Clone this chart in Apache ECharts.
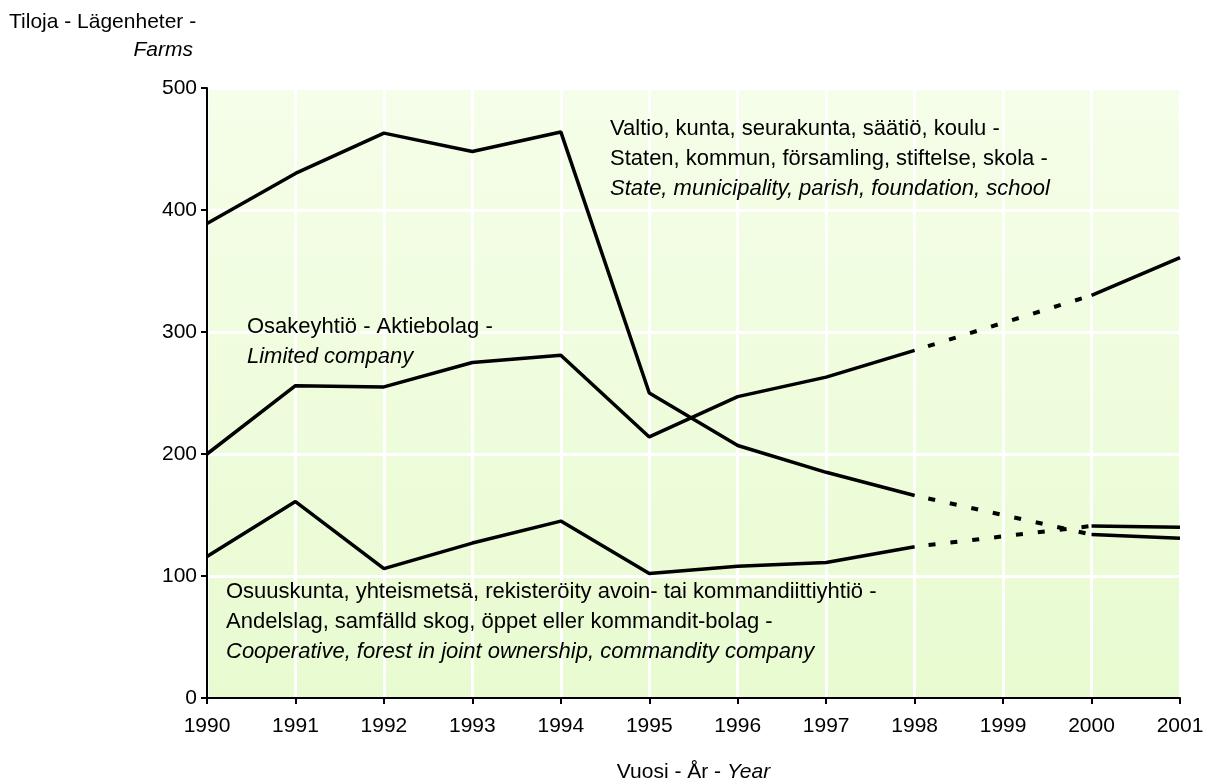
<!DOCTYPE html>
<html>
<head>
<meta charset="utf-8">
<title>Tiloja omistajaryhmittäin</title>
<script src="https://cdn.jsdelivr.net/npm/echarts@6/dist/echarts.min.js"></script>
<style>
  html, body { margin: 0; padding: 0; background: #fff; }
  #chart { width: 1208px; height: 780px; }
</style>
</head>
<body>
<div id="chart"></div>
<script>
// categories
const years = ['1990', '1991', '1992', '1993', '1994', '1995', '1996', '1997', '1998', '1999', '2000', '2001']
// no figures for 1999, the gap is bridged with a dotted line
const stateVals = [389, 430, 463, 448, 464, 250, 207, 185, 166, null, 134, 131]
const limitedVals = [200, 256, 255, 275, 281, 214, 247, 263, 285, null, 330, 361]
const coopVals = [116, 161, 106, 127, 145, 102, 108, 111, 124, null, 141, 140]
const yTicks = [0, 100, 200, 300, 400, 500]

const FONT = '"Liberation Sans", Arial, sans-serif'
const AXIS_FS = 21
const NOTE_FS = 22

// dotted bridge 1998 -> 2000
function bridge(vals) {
  return vals.map((v, i) => (i === 8 || i === 10 ? v : null))
}

function solid(name, vals) {
  return {
    name: name,
    type: 'line',
    data: vals,
    showSymbol: false,
    connectNulls: false,
    silent: true,
    lineStyle: { color: '#000', width: 3.5 },
  }
}

function dotted(name, vals) {
  return {
    name: name,
    type: 'line',
    data: bridge(vals),
    showSymbol: false,
    connectNulls: true,
    silent: true,
    lineStyle: { color: '#000', width: 4, type: [7, 15], dashOffset: 8, cap: 'butt' },
  }
}

// a block of label lines, pixel placed
function textLines(x, y, lines, size) {
  return lines.map((l, i) => ({
    type: 'text',
    x: x,
    y: y + i * 30,
    z: 10,
    silent: true,
    style: {
      text: l.t,
      fill: '#000',
      font: (l.i ? 'italic ' : '') + (size || NOTE_FS) + 'px ' + FONT,
      verticalAlign: 'middle',
      align: l.align || 'left',
    },
  }))
}

const chart = echarts.init(document.getElementById('chart'))

chart.setOption({
  backgroundColor: '#fff',
  animation: false,
  grid: {
    left: 207,
    right: 28,
    top: 88,
    bottom: 82,
    outerBoundsMode: 'none',
    containLabel: false,
    show: true,
    borderWidth: 0,
    backgroundColor: new echarts.graphic.LinearGradient(0, 0, 0, 1, [
      { offset: 0, color: '#f5fee9' },
      { offset: 1, color: '#e8fbd0' },
    ]),
  },
  xAxis: {
    type: 'category',
    data: years,
    boundaryGap: false,
    axisLine: { lineStyle: { color: '#000', width: 2 } },
    axisTick: { show: true, length: 6, lineStyle: { color: '#000', width: 2 } },
    axisLabel: { color: '#000', fontSize: AXIS_FS, fontFamily: FONT, margin: 18 },
    splitLine: { show: true, lineStyle: { color: '#fff', width: 3 } },
    name: '{n|Vuosi - År - }{i|Year}',
    nameLocation: 'middle',
    nameGap: 64,
    nameTextStyle: {
      rich: {
        n: { fontSize: AXIS_FS, fontFamily: FONT, color: '#000' },
        i: { fontSize: AXIS_FS, fontFamily: FONT, color: '#000', fontStyle: 'italic' },
      },
    },
  },
  yAxis: {
    type: 'value',
    min: yTicks[0],
    max: yTicks[yTicks.length - 1],
    interval: 100,
    axisLine: { show: true, lineStyle: { color: '#000', width: 2 } },
    axisTick: { show: true, length: 6, lineStyle: { color: '#000', width: 2 } },
    axisLabel: { color: '#000', fontSize: AXIS_FS, fontFamily: FONT, margin: 10 },
    splitLine: { show: true, lineStyle: { color: '#fff', width: 3 } },
  },
  graphic: [
    ...textLines(9, 22, [{ t: 'Tiloja - Lägenheter -' }], AXIS_FS),
    ...textLines(193, 50, [{ t: 'Farms', i: true, align: 'right' }], AXIS_FS),
    ...textLines(610, 129, [
      { t: 'Valtio, kunta, seurakunta, säätiö, koulu -' },
      { t: 'Staten, kommun, församling, stiftelse, skola -' },
      { t: 'State, municipality, parish, foundation, school', i: true },
    ]),
    ...textLines(247, 327, [
      { t: 'Osakeyhtiö - Aktiebolag -' },
      { t: 'Limited company', i: true },
    ]),
    ...textLines(226, 592, [
      { t: 'Osuuskunta, yhteismetsä, rekisteröity avoin- tai kommandiittiyhtiö -' },
      { t: 'Andelslag, samfälld skog, öppet eller kommandit-bolag -' },
      { t: 'Cooperative, forest in joint ownership, commandity company', i: true },
    ]),
  ],
  series: [
    solid('State', stateVals),
    dotted('State 1999', stateVals),
    solid('Limited', limitedVals),
    dotted('Limited 1999', limitedVals),
    solid('Cooperative', coopVals),
    dotted('Cooperative 1999', coopVals),
  ],
})
</script>
</body>
</html>
